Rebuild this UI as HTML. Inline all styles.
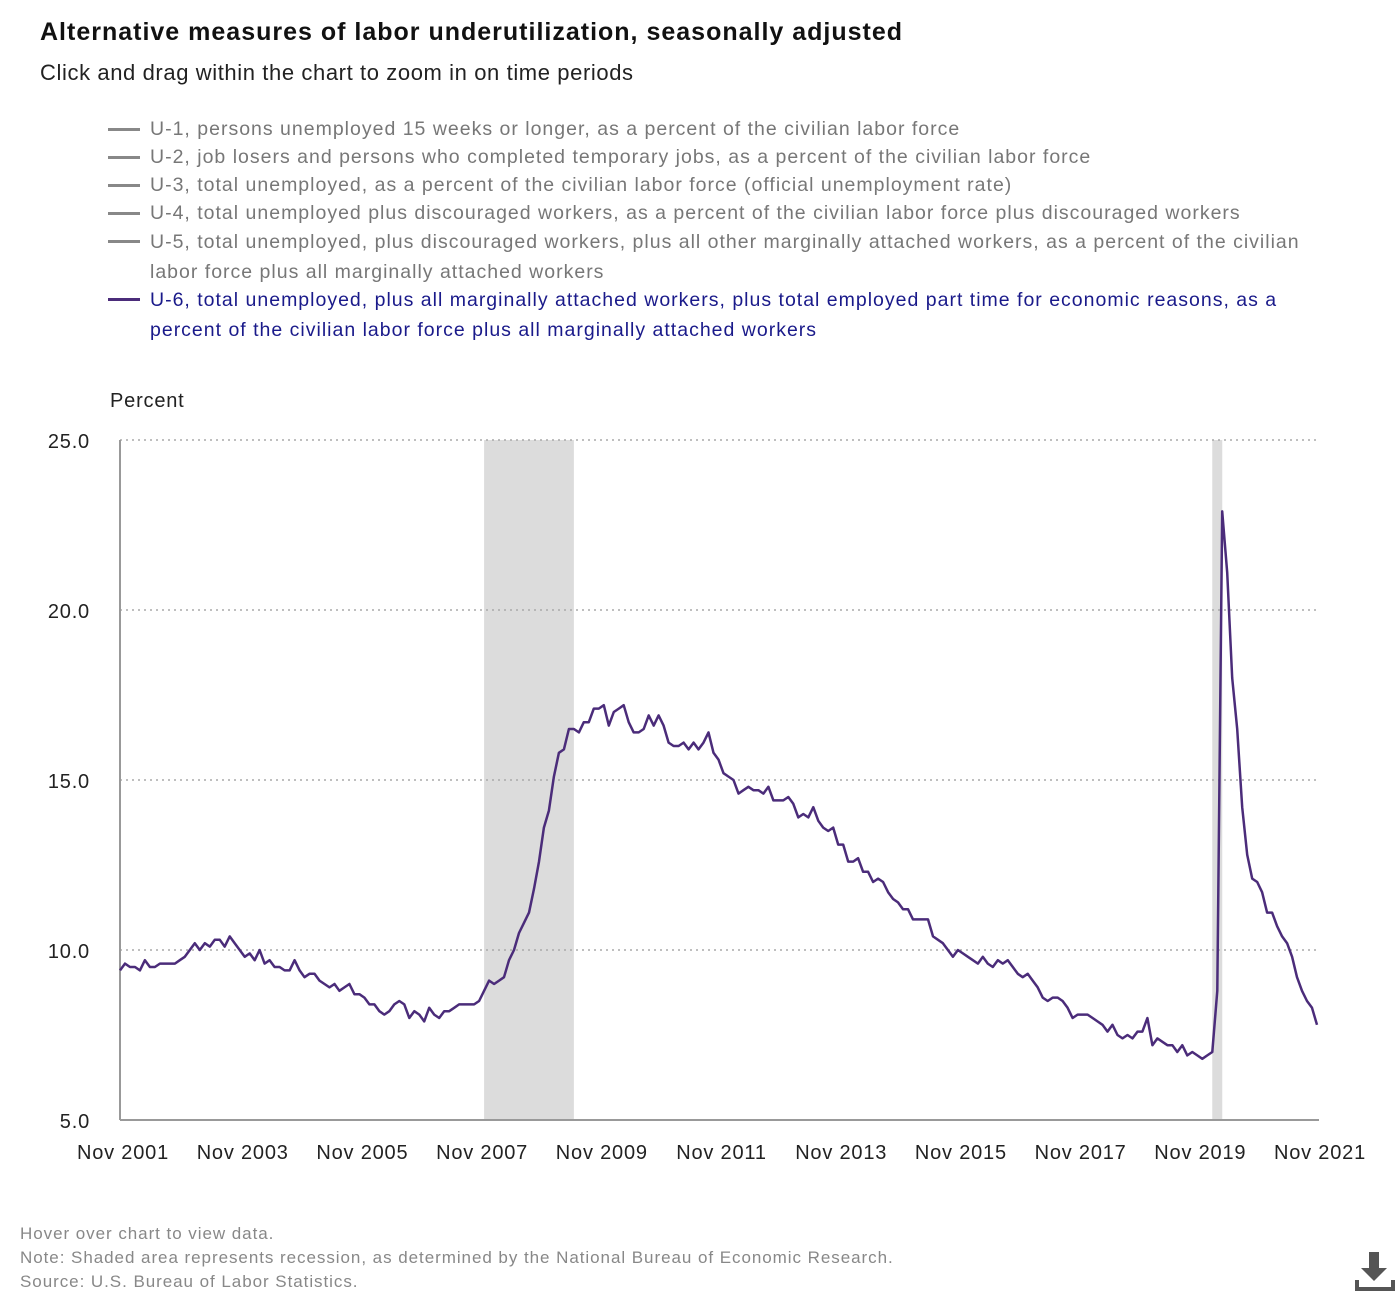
<!DOCTYPE html>
<html><head><meta charset="utf-8"><style>
body{margin:0;width:1400px;height:1300px;background:#fff;font-family:"Liberation Sans",sans-serif;position:relative;overflow:hidden}
.t{position:absolute;white-space:nowrap}
.leg{position:absolute;left:108px;font-size:19.5px;letter-spacing:1px;color:#777;line-height:28px}
.leg .sw{position:absolute;left:0;top:13px;width:32px;height:3px;background:#888}
.leg span{display:block;margin-left:42px}
.foot{position:absolute;left:20px;font-size:17px;letter-spacing:0.95px;color:#888}
</style></head><body>
<div class="t" style="left:40px;top:18px;font-size:25px;letter-spacing:1px;font-weight:bold;color:#111">Alternative measures of labor underutilization, seasonally adjusted</div>
<div class="t" style="left:40px;top:60px;font-size:22px;letter-spacing:0.6px;color:#222">Click and drag within the chart to zoom in on time periods</div>
<div>
<div class="leg" style="top:115px"><div class="sw"></div><span>U-1, persons unemployed 15 weeks or longer, as a percent of the civilian labor force</span></div>
<div class="leg" style="top:143px"><div class="sw"></div><span>U-2, job losers and persons who completed temporary jobs, as a percent of the civilian labor force</span></div>
<div class="leg" style="top:171px"><div class="sw"></div><span>U-3, total unemployed, as a percent of the civilian labor force (official unemployment rate)</span></div>
<div class="leg" style="top:199px"><div class="sw"></div><span>U-4, total unemployed plus discouraged workers, as a percent of the civilian labor force plus discouraged workers</span></div>
<div class="leg" style="top:227px;width:1220px;white-space:normal;line-height:30px"><div class="sw"></div><span>U-5, total unemployed, plus discouraged workers, plus all other marginally attached workers, as a percent of the civilian<br>labor force plus all marginally attached workers</span></div>
<div class="leg" style="top:285px;width:1220px;white-space:normal;line-height:30px;color:#1a1a8a"><div class="sw" style="background:#4b2c7a"></div><span>U-6, total unemployed, plus all marginally attached workers, plus total employed part time for economic reasons, as a<br>percent of the civilian labor force plus all marginally attached workers</span></div>
</div>
<div class="t" style="left:110px;top:390px;font-size:20px;letter-spacing:0.8px;color:#222">Percent</div>
<svg id="chart" width="1400" height="1300" style="position:absolute;left:0;top:0"></svg>
<div class="foot" style="top:1224px">Hover over chart to view data.</div>
<div class="foot" style="top:1248px">Note: Shaded area represents recession, as determined by the National Bureau of Economic Research.</div>
<div class="foot" style="top:1272px">Source: U.S. Bureau of Labor Statistics.</div>
<svg width="40" height="44" style="position:absolute;left:1355px;top:1250px"><path d="M14 2h10v16h8L19 31 6 18h8z" fill="#555"/><path d="M2 30v9h36v-9" fill="none" stroke="#555" stroke-width="4"/></svg>
<script>
const yTicks=[5,10,15,20,25];
const xTickLabels=["Nov 2001","Nov 2003","Nov 2005","Nov 2007","Nov 2009","Nov 2011","Nov 2013","Nov 2015","Nov 2017","Nov 2019","Nov 2021"];
const recessionStart=[73,219];
const recessionEnd=[91,221];
const u6=[9.4,9.6,
9.5,9.5,9.4,9.7,9.5,9.5,9.6,9.6,9.6,9.6,9.7,9.8,
10.0,10.2,10.0,10.2,10.1,10.3,10.3,10.1,10.4,10.2,10.0,9.8,
9.9,9.7,10.0,9.6,9.7,9.5,9.5,9.4,9.4,9.7,9.4,9.2,
9.3,9.3,9.1,9.0,8.9,9.0,8.8,8.9,9.0,8.7,8.7,8.6,
8.4,8.4,8.2,8.1,8.2,8.4,8.5,8.4,8.0,8.2,8.1,7.9,
8.3,8.1,8.0,8.2,8.2,8.3,8.4,8.4,8.4,8.4,8.5,8.8,
9.1,9.0,9.1,9.2,9.7,10.0,10.5,10.8,11.1,11.8,12.6,13.6,
14.1,15.1,15.8,15.9,16.5,16.5,16.4,16.7,16.7,17.1,17.1,17.2,
16.6,17.0,17.1,17.2,16.7,16.4,16.4,16.5,16.9,16.6,16.9,16.6,
16.1,16.0,16.0,16.1,15.9,16.1,15.9,16.1,16.4,15.8,15.6,15.2,
15.1,15.0,14.6,14.7,14.8,14.7,14.7,14.6,14.8,14.4,14.4,14.4,
14.5,14.3,13.9,14.0,13.9,14.2,13.8,13.6,13.5,13.6,13.1,13.1,
12.6,12.6,12.7,12.3,12.3,12.0,12.1,12.0,11.7,11.5,11.4,11.2,
11.2,10.9,10.9,10.9,10.9,10.4,10.3,10.2,10.0,9.8,10.0,9.9,
9.8,9.7,9.6,9.8,9.6,9.5,9.7,9.6,9.7,9.5,9.3,9.2,
9.3,9.1,8.9,8.6,8.5,8.6,8.6,8.5,8.3,8.0,8.1,8.1,
8.1,8.0,7.9,7.8,7.6,7.8,7.5,7.4,7.5,7.4,7.6,7.6,
8.0,7.2,7.4,7.3,7.2,7.2,7.0,7.2,6.9,7.0,6.9,6.8,
6.9,7.0,8.8,22.9,21.1,18.0,16.5,14.2,12.8,12.1,12.0,11.7,
11.1,11.1,10.7,10.4,10.2,9.8,9.2,8.8,8.5,8.3,7.8];
const NS="http://www.w3.org/2000/svg";
const svg=document.getElementById('chart');
const X0=120,X1=1317,Y0=1120,Y1=440;
const xs=i=>X0+(X1-X0)*i/(u6.length-1);
const ys=v=>Y0-(v-5)/(25-5)*(Y0-Y1);
function mk(t,a){const e=document.createElementNS(NS,t);for(const k in a)e.setAttribute(k,a[k]);svg.appendChild(e);return e;}
for(let r=0;r<recessionStart.length;r++){
 const e=mk('rect',{x:xs(recessionStart[r]),y:Y1,width:xs(recessionEnd[r])-xs(recessionStart[r]),height:Y0-Y1,fill:'#dcdcdc'});
 
 
}
yTicks.forEach(v=>{
 if(v>5){const g=mk('line',{x1:X0,x2:X1,y1:ys(v),y2:ys(v),stroke:'#aaa','stroke-width':1.5,'stroke-dasharray':'2,4'});
 
 }
 const t=mk('text',{x:90,y:ys(v)+8,'text-anchor':'end','font-size':20,'letter-spacing':0.8,fill:'#222','font-family':'Liberation Sans, sans-serif'});
 t.textContent=v.toFixed(1);
 
 
});
const ax=mk('line',{x1:X0,x2:X0,y1:Y1,y2:Y0,stroke:'#999','stroke-width':2});


const bx=mk('line',{x1:X0,x2:X1+2,y1:Y0,y2:Y0,stroke:'#999','stroke-width':2});


xTickLabels.forEach((l,i)=>{
 const t=mk('text',{x:xs(i*24)+3,y:Y0+39,'text-anchor':'middle','font-size':20,'letter-spacing':0.8,fill:'#222','font-family':'Liberation Sans, sans-serif'});
 t.textContent=l;
 
 
});
const p=mk('path',{d:u6.map((v,i)=>(i?'L':'M')+xs(i).toFixed(1)+' '+ys(v).toFixed(1)).join(''),fill:'none',stroke:'#4b2c7a','stroke-width':2.5,'stroke-linejoin':'round'});


</script>
</body></html>
